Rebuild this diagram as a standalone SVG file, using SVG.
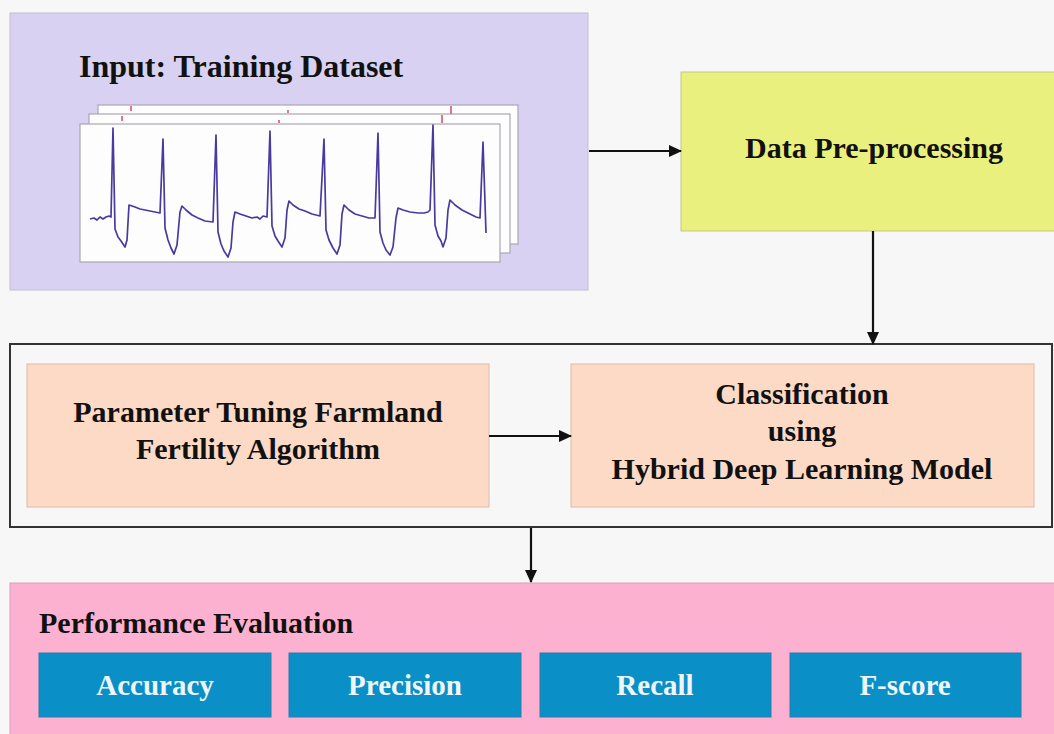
<svg xmlns="http://www.w3.org/2000/svg" width="1054" height="734" viewBox="0 0 1054 734">
<defs>
<marker id="ah" markerWidth="13" markerHeight="12" refX="12" refY="6" orient="auto" markerUnits="userSpaceOnUse">
<path d="M0,0 L13,6 L0,12 Z" fill="#111"/>
</marker>
<style>
.t{font-family:"Liberation Serif","Times New Roman",serif;font-weight:bold;font-size:30px;fill:#111}
.c{text-anchor:middle}
.w{fill:#eef6fa;font-size:29px}
.card{fill:#fdfdfd;stroke:#a8a8b0;stroke-width:1.2}
.blue{fill:#0a8fc6;stroke:#2a7fa8;stroke-width:1}
.sal{fill:#fcdac6;stroke:#e3c2b0;stroke-width:1.2}
.conn{stroke:#111;stroke-width:2.2;fill:none;marker-end:url(#ah)}
.tick{stroke:#d04a6a;stroke-width:1.5}
</style>
</defs>
<rect width="1054" height="734" fill="#f7f7f8"/>

<g id="input">
<rect x="10" y="13" width="578" height="277" fill="#d8d1f1" stroke="#c2c0d0" stroke-width="1"/>
<text class="t" x="79" y="77" style="font-size:32px">Input: Training Dataset</text>
<rect class="card" x="98" y="105" width="420" height="139"/>
<rect class="card" x="89" y="114" width="421" height="139"/>
<rect class="card" x="80" y="124" width="420" height="138"/>
<line class="tick" x1="131" y1="106" x2="131" y2="111"/>
<line class="tick" x1="288" y1="110" x2="288" y2="113"/>
<line class="tick" x1="451" y1="106" x2="451" y2="114"/>
<line class="tick" x1="122" y1="116" x2="122" y2="121"/>
<line class="tick" x1="279" y1="120" x2="279" y2="123"/>
<line class="tick" x1="442" y1="115" x2="442" y2="123"/>
<path fill="none" stroke="#4a3aa0" stroke-width="1.7" stroke-linejoin="round" d="M90,219 L94,218 97,220 100,217 103,219 106,217 109,216 111,217 L113,128 L115,229 L118,237 L121,241 L125,247 L127,240 L129,205 L132,206 L135,207 L140,209 L145,210 L150,211 L155,212 L160,213 L163,139 L165,228 L168,240 L171,248 L174,254 L177,245 L180,212 L182,206 L186,210 L192,215 L198,218 L205,221 L213,222 L216,135 L218,232 L221,244 L224,251 L228,257 L231,248 L233,222 L235,212 L240,214 L246,216 L252,218 L257,217 L260,219 L263,216 L267,217 L270,131 L272,226 L275,236 L278,241 L282,247 L285,238 L287,210 L289,201 L293,205 L299,209 L305,211 L312,214 L320,216 L324,139 L326,230 L329,240 L333,248 L337,254 L340,245 L342,214 L344,205 L349,210 L355,214 L362,216 L369,218 L375,218 L378,133 L380,232 L383,243 L386,250 L390,255 L393,247 L396,218 L398,208 L403,210 L410,212 L418,213 L424,213 L428,212 L430,210 L433,125 L435,225 L438,236 L441,241 L443,247 L446,238 L448,210 L450,200 L455,205 L462,210 L470,214 L476,217 L480,218 L483,142 L486,233"/>
</g>

<g id="preprocessing">
<rect x="681" y="72" width="380" height="159" fill="#e9f07e" stroke="#c4c888" stroke-width="1"/>
<text class="t c" x="874" y="158">Data Pre-processing</text>
</g>

<g id="model-block">
<rect x="10" y="344" width="1042" height="183" fill="#f7f7f8" stroke="#333" stroke-width="2"/>
</g>

<g id="ffa">
<rect class="sal" x="27" y="364" width="462" height="143"/>
<text class="t c" x="258" y="422">Parameter Tuning Farmland</text>
<text class="t c" x="258" y="459">Fertility Algorithm</text>
</g>

<g id="classification">
<rect class="sal" x="571" y="364" width="463" height="143"/>
<text class="t c" x="802" y="404">Classification</text>
<text class="t c" x="802" y="441">using</text>
<text class="t c" x="802" y="479">Hybrid Deep Learning Model</text>
</g>

<g id="evaluation">
<rect x="10" y="583" width="1050" height="160" fill="#fdb1d0" stroke="#d8a0b8" stroke-width="1"/>
<text class="t" x="39" y="633">Performance Evaluation</text>
</g>

<g id="accuracy">
<rect class="blue" x="39" y="653" width="232" height="64"/>
<text class="t c w" x="155" y="695">Accuracy</text>
</g>
<g id="precision">
<rect class="blue" x="289" y="653" width="232" height="64"/>
<text class="t c w" x="405" y="695">Precision</text>
</g>
<g id="recall">
<rect class="blue" x="540" y="653" width="231" height="64"/>
<text class="t c w" x="655" y="695">Recall</text>
</g>
<g id="fscore">
<rect class="blue" x="790" y="653" width="231" height="64"/>
<text class="t c w" x="905" y="695">F-score</text>
</g>

<g id="connectors">
<line class="conn" x1="589" y1="151" x2="681" y2="151"/>
<line class="conn" x1="873" y1="231" x2="873" y2="344"/>
<line class="conn" x1="489" y1="436" x2="571" y2="436"/>
<line class="conn" x1="531" y1="528" x2="531" y2="582"/>
</g>
</svg>
